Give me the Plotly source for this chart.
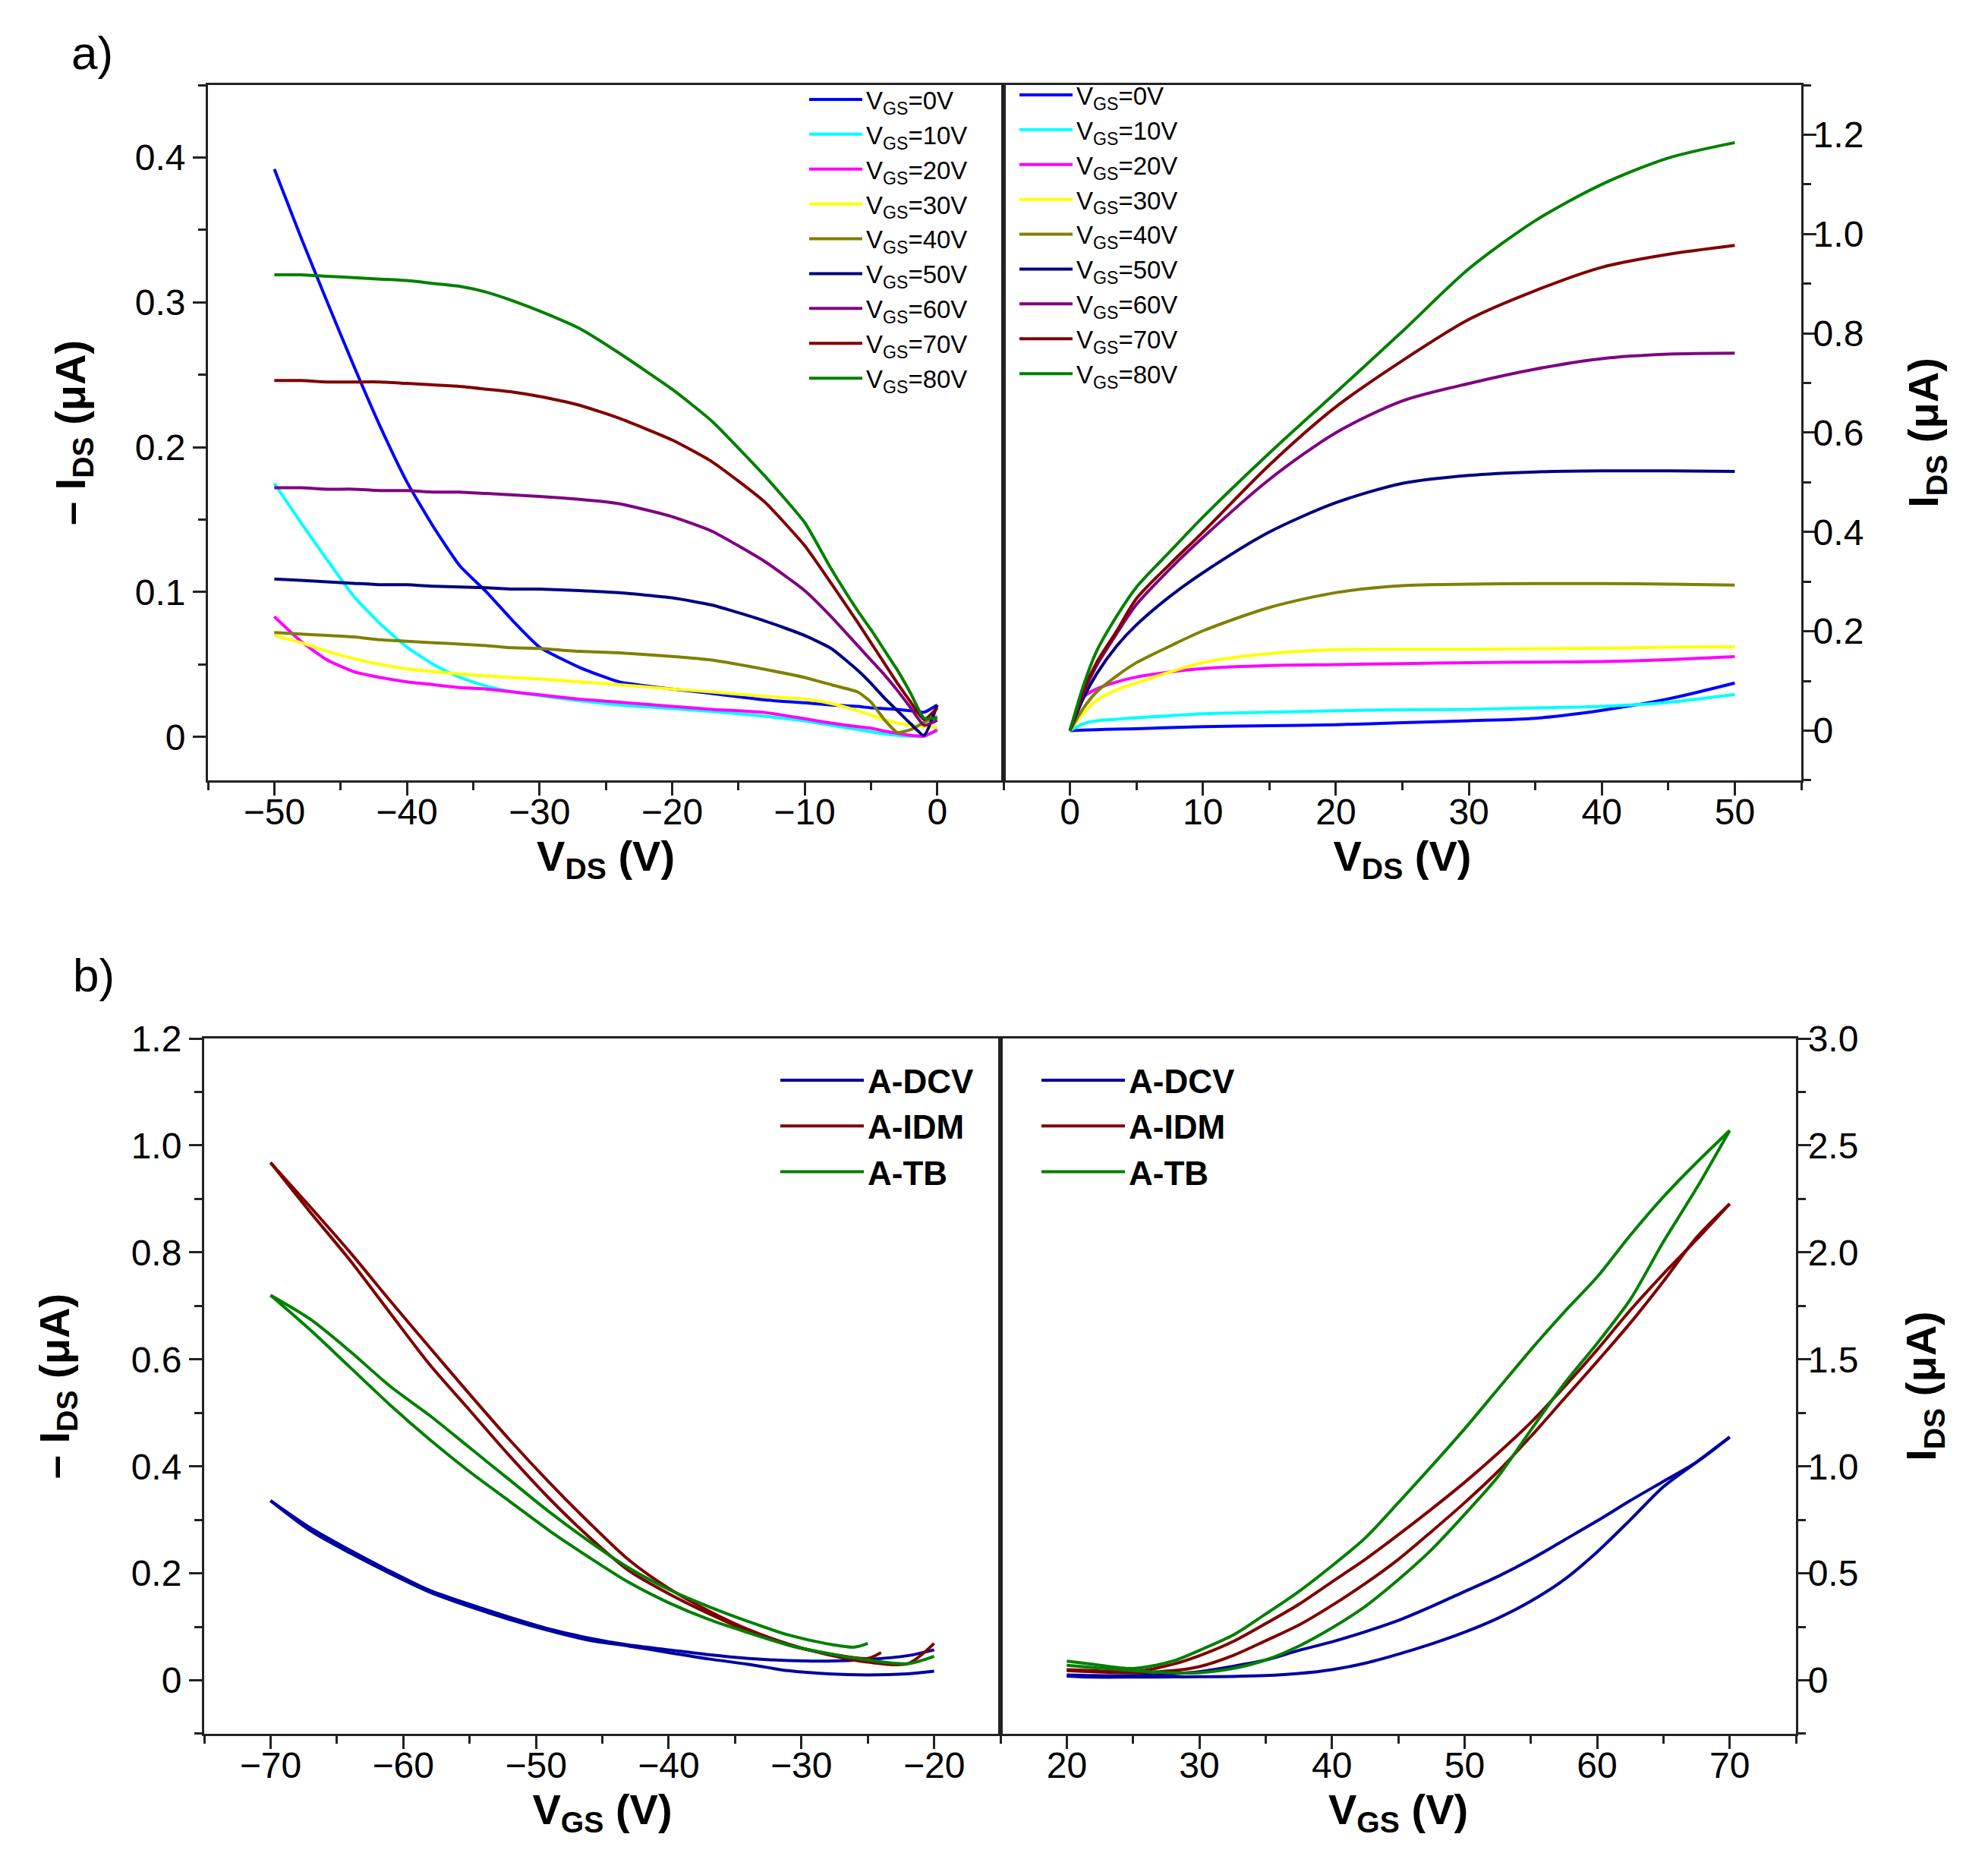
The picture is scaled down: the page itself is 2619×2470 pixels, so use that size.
import plotly.graph_objects as go

# ---- panel a) output characteristics (values read off the figure) ----
vgs_steps = ["0V", "10V", "20V", "30V", "40V", "50V", "60V", "70V", "80V"]
vgs_colors = ["#0000ff", "#00ffff", "#ff00ff", "#ffff00", "#808000",
              "#000080", "#800080", "#800000", "#008000"]

vds_neg = [-50, -48, -46, -44, -42, -40, -38, -36, -34, -32, -30, -27, -24,
           -20, -17, -13, -10, -8, -6, -5, -4, -3, -2, -1, 0]
ids_neg_0v = [0.392, 0.345, 0.300, 0.256, 0.214, 0.176, 0.145, 0.118, 0.100, 0.080, 0.062, 0.048, 0.038,
              0.033, 0.030, 0.0255, 0.0235, 0.022, 0.021, 0.020, 0.0195, 0.019, 0.018, 0.017, 0.022]
ids_neg_10v = [0.175, 0.148, 0.122, 0.097, 0.078, 0.062, 0.050, 0.041, 0.035, 0.031, 0.0285, 0.025, 0.022,
               0.0195, 0.0175, 0.0142, 0.011, 0.008, 0.005, 0.0035, 0.002, 0.001, 0.0005, 0.001, 0.004]
ids_neg_20v = [0.083, 0.066, 0.053, 0.045, 0.041, 0.038, 0.036, 0.034, 0.033, 0.031, 0.029, 0.026, 0.024,
               0.021, 0.019, 0.0168, 0.0125, 0.0095, 0.007, 0.006, 0.004, 0.0025, 0.001, 0.0005, 0.005]
ids_neg_30v = [0.070, 0.065, 0.059, 0.054, 0.050, 0.047, 0.045, 0.0435, 0.042, 0.041, 0.040, 0.038, 0.036,
               0.033, 0.031, 0.028, 0.026, 0.023, 0.018, 0.015, 0.012, 0.0095, 0.008, 0.007, 0.0065]
ids_neg_40v = [0.072, 0.071, 0.070, 0.069, 0.067, 0.066, 0.065, 0.064, 0.063, 0.0615, 0.061, 0.059, 0.058,
               0.0555, 0.053, 0.0466, 0.041, 0.036, 0.031, 0.024, 0.012, 0.003, 0.005, 0.010, 0.014]
ids_neg_50v = [0.109, 0.108, 0.107, 0.106, 0.105, 0.105, 0.104, 0.1035, 0.103, 0.102, 0.102, 0.101, 0.0995,
               0.096, 0.091, 0.080, 0.070, 0.061, 0.046, 0.037, 0.027, 0.018, 0.009, 0.001, 0.022]
ids_neg_60v = [0.172, 0.172, 0.171, 0.171, 0.170, 0.170, 0.169, 0.169, 0.168, 0.167, 0.166, 0.164, 0.161,
               0.152, 0.142, 0.121, 0.101, 0.083, 0.063, 0.053, 0.043, 0.032, 0.020, 0.008, 0.0115]
ids_neg_70v = [0.246, 0.246, 0.245, 0.245, 0.245, 0.244, 0.243, 0.242, 0.240, 0.238, 0.235, 0.229, 0.220,
               0.205, 0.190, 0.162, 0.132, 0.106, 0.079, 0.065, 0.051, 0.037, 0.024, 0.012, 0.020]
ids_neg_80v = [0.319, 0.319, 0.318, 0.317, 0.316, 0.315, 0.313, 0.311, 0.307, 0.301, 0.294, 0.282, 0.265,
               0.240, 0.218, 0.180, 0.148, 0.116, 0.087, 0.074, 0.060, 0.046, 0.030, 0.013, 0.013]

vds_pos = [0, 1, 2, 3.5, 5, 7.5, 10, 15, 20, 25, 30, 35, 40, 45, 50]
ids_pos_0v = [0, 0.001, 0.002, 0.003, 0.004, 0.006, 0.008, 0.010, 0.012, 0.016, 0.020, 0.025, 0.041, 0.064, 0.096]
ids_pos_10v = [0, 0.014, 0.020, 0.023, 0.026, 0.030, 0.034, 0.037, 0.040, 0.042, 0.043, 0.046, 0.049, 0.057, 0.073]
ids_pos_20v = [0, 0.067, 0.084, 0.098, 0.108, 0.118, 0.125, 0.131, 0.133, 0.135, 0.137, 0.138, 0.139, 0.143, 0.149]
ids_pos_30v = [0, 0.035, 0.061, 0.082, 0.096, 0.118, 0.137, 0.155, 0.163, 0.164, 0.164, 0.165, 0.166, 0.168, 0.169]
ids_pos_40v = [0, 0.045, 0.078, 0.110, 0.137, 0.170, 0.201, 0.248, 0.278, 0.292, 0.295, 0.296, 0.296, 0.295, 0.293]
ids_pos_50v = [0, 0.065, 0.114, 0.170, 0.213, 0.270, 0.318, 0.400, 0.459, 0.498, 0.514, 0.521, 0.523, 0.523, 0.522]
ids_pos_60v = [0, 0.075, 0.131, 0.195, 0.254, 0.325, 0.389, 0.506, 0.600, 0.664, 0.699, 0.728, 0.749, 0.758, 0.760]
ids_pos_70v = [0, 0.080, 0.137, 0.200, 0.266, 0.335, 0.400, 0.535, 0.652, 0.745, 0.828, 0.886, 0.933, 0.959, 0.977]
ids_pos_80v = [0, 0.090, 0.160, 0.230, 0.289, 0.360, 0.430, 0.559, 0.681, 0.804, 0.930, 1.027, 1.100, 1.153, 1.184]

# ---- panel b) transfer curves, forward + backward sweep ----
materials = ["A-DCV", "A-IDM", "A-TB"]
material_colors = ["#0000a0", "#800000", "#008000"]

vgs_neg = [-70, -67, -64, -61, -58, -55, -52, -49, -46, -43, -40, -37, -34, -31, -28, -25, -22, -20]
dcv_neg_up = [0.336, 0.285, 0.243, 0.204, 0.168, 0.142, 0.118, 0.096, 0.079, 0.066, 0.057, 0.048,
              0.041, 0.037, 0.036, 0.039, 0.046, 0.057]
dcv_neg_down = [0.336, 0.280, 0.238, 0.200, 0.165, 0.138, 0.114, 0.093, 0.075, 0.064, 0.052, 0.040,
                0.030, 0.018, 0.012, 0.010, 0.012, 0.017]
idm_neg_up = [0.968, 0.885, 0.800, 0.710, 0.622, 0.535, 0.450, 0.370, 0.295, 0.225, 0.172, 0.130,
              0.095, 0.068, 0.048, 0.034, 0.031, 0.069]
vgs_neg_idm_back = [-70, -67, -64, -61, -58, -55, -52, -49, -46, -43, -40, -37, -34, -31, -28, -25, -24]
idm_neg_down = [0.968, 0.875, 0.785, 0.687, 0.590, 0.505, 0.420, 0.340, 0.268, 0.205, 0.162, 0.125,
                0.092, 0.066, 0.050, 0.041, 0.052]
vgs_neg_tb_back = [-70, -67, -64, -61, -58, -55, -52, -49, -46, -43, -40, -37, -34, -31, -28, -26, -25]
tb_neg_up = [0.720, 0.675, 0.615, 0.550, 0.495, 0.435, 0.375, 0.315, 0.260, 0.210, 0.170, 0.138,
             0.110, 0.085, 0.068, 0.062, 0.069]
tb_neg_down = [0.720, 0.655, 0.585, 0.515, 0.450, 0.390, 0.335, 0.280, 0.230, 0.183, 0.145, 0.114,
               0.089, 0.066, 0.050, 0.038, 0.031, 0.045]

vgs_pos = [20, 22, 25, 28, 30, 32.5, 35, 37.5, 40, 42.5, 45, 47.5, 50, 52.5, 55, 57.5, 60, 62.5, 65, 67.5, 70]
dcv_pos_up = [0.025, 0.022, 0.022, 0.030, 0.040, 0.065, 0.095, 0.140, 0.180, 0.227, 0.280, 0.345, 0.415,
              0.485, 0.565, 0.655, 0.745, 0.840, 0.930, 1.020, 1.137]
dcv_pos_down = [0.020, 0.015, 0.015, 0.016, 0.017, 0.018, 0.022, 0.032, 0.050, 0.080, 0.122, 0.170, 0.225,
                0.290, 0.370, 0.470, 0.600, 0.750, 0.905, 1.020, 1.137]
idm_pos_up = [0.050, 0.045, 0.040, 0.075, 0.115, 0.180, 0.265, 0.355, 0.460, 0.565, 0.680, 0.800, 0.925,
              1.060, 1.205, 1.370, 1.545, 1.730, 1.900, 2.060, 2.227]
idm_pos_down = [0.045, 0.040, 0.036, 0.045, 0.064, 0.115, 0.185, 0.258, 0.350, 0.452, 0.565, 0.695, 0.830,
                0.975, 1.140, 1.315, 1.490, 1.670, 1.865, 2.070, 2.227]
tb_pos_up = [0.090, 0.075, 0.055, 0.090, 0.140, 0.210, 0.310, 0.415, 0.535, 0.665, 0.830, 1.000, 1.175,
             1.360, 1.545, 1.720, 1.885, 2.080, 2.260, 2.420, 2.570]
tb_pos_down = [0.070, 0.060, 0.045, 0.035, 0.036, 0.055, 0.095, 0.160, 0.245, 0.345, 0.470, 0.610, 0.775,
               0.950, 1.170, 1.385, 1.575, 1.780, 2.050, 2.300, 2.570]

# tick labels
ya_right_ticks = [0, 0.2, 0.4, 0.6, 0.8, 1.0, 1.2]
ya_right_text = ["0", "0.2", "0.4", "0.6", "0.8", "1.0", "1.2"]
yb_left_ticks = [0, 0.2, 0.4, 0.6, 0.8, 1.0, 1.2]
yb_left_text = ["0", "0.2", "0.4", "0.6", "0.8", "1.0", "1.2"]
yb_right_ticks = [0, 0.5, 1.0, 1.5, 2.0, 2.5, 3.0]
yb_right_text = ["0", "0.5", "1.0", "1.5", "2.0", "2.5", "3.0"]

FONT = "Liberation Sans, Arial, sans-serif"
W, H = 2619, 2470
LW = 4

neg_sets = [ids_neg_0v, ids_neg_10v, ids_neg_20v, ids_neg_30v, ids_neg_40v,
            ids_neg_50v, ids_neg_60v, ids_neg_70v, ids_neg_80v]
pos_sets = [ids_pos_0v, ids_pos_10v, ids_pos_20v, ids_pos_30v, ids_pos_40v,
            ids_pos_50v, ids_pos_60v, ids_pos_70v, ids_pos_80v]

fig = go.Figure()

for step, color, ys in zip(vgs_steps, vgs_colors, neg_sets):
    fig.add_trace(go.Scatter(x=vds_neg, y=ys, mode="lines", xaxis="x", yaxis="y",
                             name="V<sub>GS</sub>=" + step, legend="legend",
                             line=dict(color=color, width=LW, shape="spline", smoothing=0.5)))
for step, color, ys in zip(vgs_steps, vgs_colors, pos_sets):
    fig.add_trace(go.Scatter(x=vds_pos, y=ys, mode="lines", xaxis="x2", yaxis="y2",
                             name="V<sub>GS</sub>=" + step, legend="legend2",
                             line=dict(color=color, width=LW, shape="spline", smoothing=0.8)))

# each hysteresis loop = two sweep branches drawn as one legend group
neg_branches = [
    ((vgs_neg, dcv_neg_down), (vgs_neg, dcv_neg_up)),
    ((vgs_neg_idm_back, idm_neg_down), (vgs_neg, idm_neg_up)),
    ((vgs_neg_tb_back, tb_neg_up), (vgs_neg, tb_neg_down)),
]
pos_branches = [
    ((vgs_pos, dcv_pos_up), (vgs_pos, dcv_pos_down)),
    ((vgs_pos, idm_pos_up), (vgs_pos, idm_pos_down)),
    ((vgs_pos, tb_pos_up), (vgs_pos, tb_pos_down)),
]
for axes, legend_id, branch_sets in [(("x3", "y3"), "legend3", neg_branches),
                                     (("x4", "y4"), "legend4", pos_branches)]:
    for name, color, branches in zip(materials, material_colors, branch_sets):
        for k, (xs, ys) in enumerate(branches):
            fig.add_trace(go.Scatter(x=xs, y=ys, mode="lines", xaxis=axes[0], yaxis=axes[1],
                                     name=name, legend=legend_id, legendgroup=legend_id + name,
                                     showlegend=(k == 0),
                                     line=dict(color=color, width=LW, shape="spline", smoothing=0.8)))

tick_font = dict(family=FONT, size=48, color="black")
title_font = dict(family=FONT, size=56, color="black", weight="bold")
minor_x = dict(dtick=5, tick0=0, ticks="outside", ticklen=10, tickwidth=3, tickcolor="#222")


def frame(**kw):
    base = dict(showline=True, mirror=True, linecolor="#222", linewidth=3,
                ticks="outside", ticklen=17, tickwidth=3, tickcolor="#222",
                showgrid=False, zeroline=False, tickfont=tick_font,
                title_font=title_font, automargin=False)
    base.update(kw)
    return base


# plot area = [261, 2365] x [104, 2276] in pixels
fig.update_layout(
    width=W, height=H,
    margin=dict(l=261, r=W - 2365, t=104, b=H - 2276, autoexpand=False),
    paper_bgcolor="white", plot_bgcolor="white",
    xaxis=frame(domain=[0.0024, 0.5005], anchor="y", range=[-55, 5], dtick=10, tick0=0,
                minor=minor_x, ticklabelstandoff=-20,
                title=dict(text="V<sub>DS</sub> (V)", standoff=6)),
    yaxis=frame(domain=[0.5783, 1.0], anchor="x", range=[-0.03, 0.45], dtick=0.1, tick0=0,
                minor=dict(dtick=0.05, tick0=0, ticks="outside", ticklen=10, tickwidth=3, tickcolor="#222"),
                title=dict(text="– I<sub>DS</sub> (μA)", standoff=48)),
    xaxis2=frame(domain=[0.5005, 1.0], anchor="y2", range=[-5, 55], dtick=10, tick0=0,
                 minor=minor_x, ticklabelstandoff=-20,
                 title=dict(text="V<sub>DS</sub> (V)", standoff=6)),
    yaxis2=frame(domain=[0.5783, 1.0], anchor="x2", side="right", range=[-0.1, 1.3],
                 tickmode="array", tickvals=ya_right_ticks, ticktext=ya_right_text,
                 minor=dict(dtick=0.1, tick0=0, ticks="outside", ticklen=10, tickwidth=3, tickcolor="#222"),
                 ticklabelstandoff=-14,
                 title=dict(text="I<sub>DS</sub> (μA)", standoff=60)),
    xaxis3=frame(domain=[0.0, 0.4986], anchor="y3", range=[-75, -15], dtick=10, tick0=0,
                 minor=minor_x, ticklabelstandoff=-20,
                 title=dict(text="V<sub>GS</sub> (V)", standoff=6)),
    yaxis3=frame(domain=[0.0, 0.4217], anchor="x3", range=[-0.1, 1.2],
                 tickmode="array", tickvals=yb_left_ticks, ticktext=yb_left_text,
                 minor=dict(dtick=0.1, tick0=0, ticks="outside", ticklen=10, tickwidth=3, tickcolor="#222"),
                 title=dict(text="– I<sub>DS</sub> (μA)", standoff=64)),
    xaxis4=frame(domain=[0.4986, 0.9967], anchor="y4", range=[15, 75], dtick=10, tick0=0,
                 minor=minor_x, ticklabelstandoff=-20,
                 title=dict(text="V<sub>GS</sub> (V)", standoff=6)),
    yaxis4=frame(domain=[0.0, 0.4217], anchor="x4", side="right", range=[-0.25, 3.0],
                 tickmode="array", tickvals=yb_right_ticks, ticktext=yb_right_text,
                 minor=dict(dtick=0.25, tick0=0, ticks="outside", ticklen=10, tickwidth=3, tickcolor="#222"),
                 ticklabelstandoff=-14,
                 title=dict(text="I<sub>DS</sub> (μA)", standoff=64)),
    legend=dict(x=(1053 - 261) / 2104, y=1 - (95 - 104) / 2172, itemwidth=70,
                xanchor="left", yanchor="top", bgcolor="rgba(0,0,0,0)",
                font=dict(family=FONT, size=33, color="black")),
    legend2=dict(x=(1330 - 261) / 2104, y=1 - (89 - 104) / 2172, itemwidth=70,
                 xanchor="left", yanchor="top", bgcolor="rgba(0,0,0,0)",
                 font=dict(family=FONT, size=33, color="black")),
    legend3=dict(x=(1015 - 261) / 2104, y=1 - (1380 - 104) / 2172, itemwidth=110,
                 xanchor="left", yanchor="top", bgcolor="rgba(0,0,0,0)", tracegroupgap=0,
                 font=dict(family=FONT, size=44, color="black", weight="bold")),
    legend4=dict(x=(1359 - 261) / 2104, y=1 - (1380 - 104) / 2172, itemwidth=110,
                 xanchor="left", yanchor="top", bgcolor="rgba(0,0,0,0)", tracegroupgap=0,
                 font=dict(family=FONT, size=44, color="black", weight="bold")),
    showlegend=True,
)

fig.add_annotation(text="a)", xref="paper", yref="paper", x=(84 - 261) / 2104, y=1 - (62 - 104) / 2172,
                   xanchor="left", yanchor="middle", showarrow=False,
                   font=dict(family=FONT, size=62, color="black"))
fig.add_annotation(text="b)", xref="paper", yref="paper", x=(86 - 261) / 2104, y=1 - (1276 - 104) / 2172,
                   xanchor="left", yanchor="middle", showarrow=False,
                   font=dict(family=FONT, size=62, color="black"))

fig.write_html("out.html")
